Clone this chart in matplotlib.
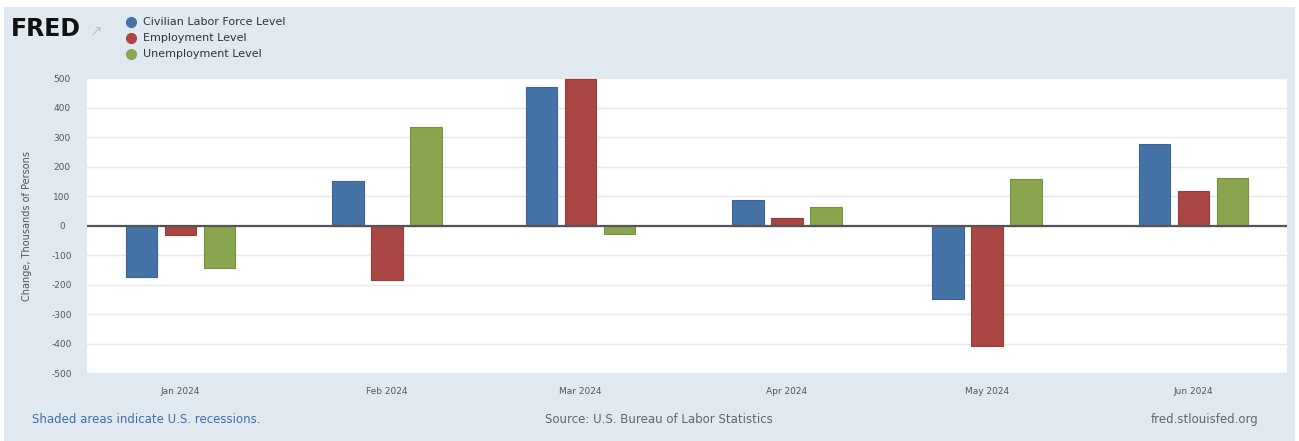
import datetime as dt
import matplotlib.pyplot as plt
import matplotlib.dates as mdates
from matplotlib.patches import Rectangle
from matplotlib.lines import Line2D

plt.rcParams["axes.unicode_minus"] = False

# Monthly change, thousands of persons (Jan-Jun 2024)
months = ["2024-01-01", "2024-02-01", "2024-03-01", "2024-04-01", "2024-05-01", "2024-06-01"]
month_labels = ["Jan 2024", "Feb 2024", "Mar 2024", "Apr 2024", "May 2024", "Jun 2024"]
labor_force = [-175, 150, 469, 87, -250, 277]
employment = [-31, -184, 498, 25, -408, 116]
unemployment = [-144, 334, -29, 63, 157, 162]

series_names = ["Civilian Labor Force Level", "Employment Level", "Unemployment Level"]
colors = ["#4572a7", "#aa4643", "#89a54e"]
edges = ["#3b6396", "#963c39", "#77913f"]

bg = "#e1e9f0"
fig = plt.figure(figsize=(12.99, 4.41), dpi=100, facecolor="white")
fig.patches.append(Rectangle((0.003, 0.0), 0.994, 0.985, transform=fig.transFigure,
                             facecolor=bg, edgecolor="none", zorder=-10))

ax = fig.add_axes([0.067, 0.154, 0.9238, 0.669])
ax.set_facecolor("white")

dates = [mdates.date2num(dt.datetime.strptime(m, "%Y-%m-%d")) for m in months]
width = 4.7
offset = 5.85
for i, vals in enumerate([labor_force, employment, unemployment]):
    xs = [d + (i - 1) * offset for d in dates]
    ax.bar(xs, vals, width=width, color=colors[i], edgecolor=edges[i], linewidth=0.8, zorder=3)

ax.axhline(0, color="#555555", linewidth=1.6, zorder=4)

ax.set_ylim(-500, 500)
ax.set_yticks(range(-500, 501, 100))
ax.set_xlim(mdates.date2num(dt.datetime(2023, 12, 18)), mdates.date2num(dt.datetime(2024, 6, 15)))
ax.set_xticks(dates)
ax.set_xticklabels(month_labels)
ax.grid(axis="y", color="#e8e8e8", linewidth=1, zorder=0)
ax.tick_params(axis="both", length=0, labelsize=6.5, labelcolor="#555555")
ax.tick_params(axis="x", pad=10)
ax.tick_params(axis="y", pad=18)
for lab in ax.get_yticklabels():
    lab.set_horizontalalignment("center")
for s in ax.spines.values():
    s.set_visible(False)

ax.set_ylabel("Change, Thousands of Persons", fontsize=7, color="#555555", labelpad=14)

# header: logo and legend
fig.text(0.008, 0.935, "FRED", fontsize=17, fontweight="heavy", color="#111111",
         va="center", ha="left", family="DejaVu Sans")
fig.text(0.069, 0.93, "\u2197", fontsize=11, color="#b8c8b0", va="center", ha="left")
leg_y = [0.95, 0.914, 0.878]
for name, c, y in zip(series_names, colors, leg_y):
    fig.add_artist(Line2D([0.1008], [y], transform=fig.transFigure, marker="o",
                          markersize=7, color=c, linestyle="none"))
    fig.text(0.11, y, name, fontsize=8, color="#333333", va="center", ha="left")

# footer
fig.text(0.025, 0.048, "Shaded areas indicate U.S. recessions.", fontsize=8.5,
         color="#3a6fb0", va="center", ha="left")
fig.text(0.507, 0.048, "Source: U.S. Bureau of Labor Statistics", fontsize=8.5,
         color="#666666", va="center", ha="center")
fig.text(0.969, 0.048, "fred.stlouisfed.org", fontsize=8.5,
         color="#666666", va="center", ha="right")

fig.savefig("out.png", dpi=100, facecolor=fig.get_facecolor())
